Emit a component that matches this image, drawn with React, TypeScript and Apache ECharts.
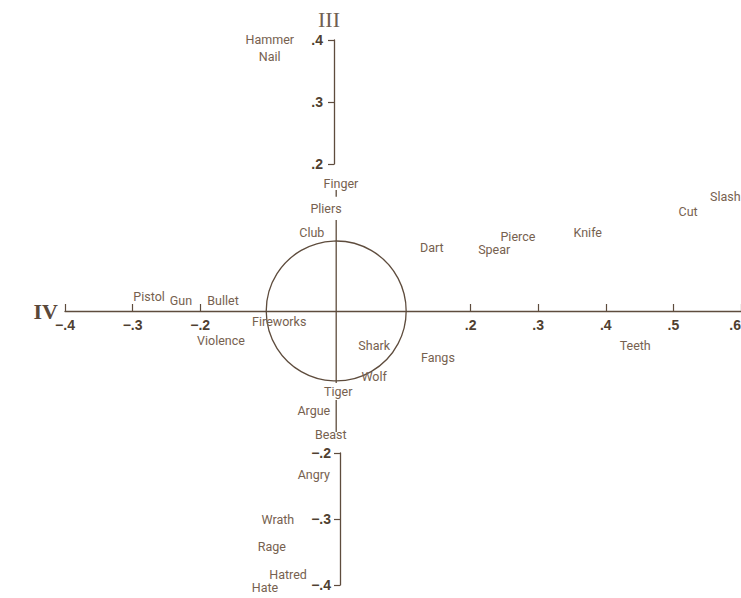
import React, { useEffect, useRef } from "react";
import * as echarts from "echarts";

// Factor IV (horizontal) and Factor III (vertical) loadings of each word
const words = [
  "Hammer", "Nail", "Finger", "Pliers", "Club", "Dart", "Spear", "Pierce", "Knife", "Cut", "Slash",
  "Teeth", "Fangs", "Shark", "Wolf", "Tiger", "Argue", "Beast", "Angry", "Wrath", "Rage", "Hatred",
  "Hate", "Pistol", "Gun", "Bullet", "Fireworks", "Violence",
];
const factorIV = [
  -0.098, -0.098, 0.007, -0.015, -0.036, 0.141, 0.233, 0.268, 0.371, 0.519, 0.574,
  0.441, 0.15, 0.056, 0.056, 0.003, -0.033, -0.008, -0.033, -0.086, -0.095, -0.071,
  -0.105, -0.276, -0.229, -0.167, -0.084, -0.17,
];
const factorIII = [
  0.399, 0.374, 0.188, 0.151, 0.116, 0.093, 0.091, 0.11, 0.115, 0.146, 0.168,
  -0.05, -0.068, -0.051, -0.096, -0.119, -0.146, -0.181, -0.24, -0.307, -0.347, -0.387,
  -0.407, 0.022, 0.016, 0.016, -0.016, -0.044,
];

// Tick values
const xTicks = [-0.4, -0.3, -0.2, 0.2, 0.3, 0.4, 0.5, 0.6];
const upperTicks = [0.2, 0.3, 0.4];
const lowerTicks = [-0.4, -0.3, -0.2];

// Pieces of the vertical (Factor III) line drawn through the middle
const verticalPieces = [
  [0.178, 0.168],
  [0.134, -0.106],
  [-0.131, -0.178],
];
// Circle around the origin
const circleCenter = [0, 0];
const circleRadius = 0.1032;

const AXIS_COLOR = "#5e4c3d";
const TICK_TEXT = "#4f3f31";
const WORD_COLOR = "#76614f";
const WORD_FONT = "Roboto, 'Liberation Sans', sans-serif";
const TICK_FONT = "'Liberation Sans', Arial, sans-serif";
const SERIF = "'Liberation Serif', 'DejaVu Serif', serif";

const fmt = (v: number) => {
  const r = Math.round(v * 10) / 10;
  const s = Math.abs(r).toFixed(1).replace(/^0/, "");
  return r < 0 ? "\u2212" + s : s;
};

export default function App() {
  const ref = useRef<HTMLDivElement>(null);
  useEffect(() => {
    if (!ref.current) return;
    const chart = echarts.init(ref.current, undefined, { renderer: "svg" });
    const tickLabelStyle = {
      color: TICK_TEXT,
      fontFamily: TICK_FONT,
      fontSize: 14,
      fontWeight: "bold" as const,
    };
    const option: any = {
      animation: false,
      backgroundColor: "#ffffff",
      grid: [
        // words, circle and middle line
        { left: 65, width: 678, top: 5, height: 612, outerBoundsMode: "none", containLabel: false },
        // upper bracket of Factor III
        { left: 334, width: 10, top: 40, height: 124, outerBoundsMode: "none", containLabel: false },
        // lower bracket of Factor III
        { left: 340, width: 10, top: 453, height: 132, outerBoundsMode: "none", containLabel: false },
        // Factor IV axis (its bottom edge is the zero line of Factor III)
        { left: 65, width: 676, top: 0, height: 311, outerBoundsMode: "none", containLabel: false },
      ],
      xAxis: [
        { type: "value", gridIndex: 0, min: -0.4, max: 0.6, show: false },
        { type: "value", gridIndex: 1, min: 0, max: 1, show: false },
        { type: "value", gridIndex: 2, min: 0, max: 1, show: false },
        {
          type: "value",
          gridIndex: 3,
          position: "bottom",
          min: -0.4,
          max: 0.6,
          splitLine: { show: false },
          axisLine: { show: true, onZero: false, lineStyle: { color: AXIS_COLOR, width: 1.3 } },
          axisTick: {
            show: true,
            inside: true,
            length: 7,
            customValues: xTicks,
            lineStyle: { color: AXIS_COLOR, width: 1.2 },
          },
          axisLabel: {
            show: true,
            customValues: xTicks,
            formatter: (v: number) => fmt(v),
            margin: 7,
            alignMaxLabel: "right",
            ...tickLabelStyle,
          },
          name: "IV",
          nameLocation: "start",
          nameGap: 7,
          nameMoveOverlap: false,
          nameTextStyle: {
            fontFamily: SERIF,
            fontSize: 22,
            fontWeight: "bold",
            color: "#5a4839",
            verticalAlign: "middle",
          },
        },
      ],
      yAxis: [
        { type: "value", gridIndex: 0, min: -0.45, max: 0.45, show: false },
        {
          type: "value",
          gridIndex: 1,
          min: 0.2,
          max: 0.4,
          position: "left",
          splitLine: { show: false },
          axisLine: { show: true, onZero: false, lineStyle: { color: AXIS_COLOR, width: 1.3 } },
          axisTick: {
            show: true,
            length: 6,
            customValues: upperTicks,
            lineStyle: { color: AXIS_COLOR, width: 1.2 },
          },
          axisLabel: {
            show: true,
            customValues: upperTicks,
            formatter: (v: number) => fmt(v),
            margin: 11,
            ...tickLabelStyle,
          },
          name: "III",
          nameLocation: "end",
          nameGap: 10,
          nameMoveOverlap: false,
          nameTextStyle: {
            fontFamily: SERIF,
            fontSize: 22,
            color: "#6f6052",
            padding: [0, 10, 0, 0],
          },
        },
        {
          type: "value",
          gridIndex: 2,
          min: -0.4,
          max: -0.2,
          position: "left",
          splitLine: { show: false },
          axisLine: { show: true, onZero: false, lineStyle: { color: AXIS_COLOR, width: 1.3 } },
          axisTick: {
            show: true,
            length: 6,
            customValues: lowerTicks,
            lineStyle: { color: AXIS_COLOR, width: 1.2 },
          },
          axisLabel: {
            show: true,
            customValues: lowerTicks,
            formatter: (v: number) => fmt(v),
            margin: 9,
            ...tickLabelStyle,
          },
        },
        { type: "value", gridIndex: 3, min: 0, max: 1, show: false },
      ],
      series: [
        ...verticalPieces.map((p) => ({
          type: "line",
          xAxisIndex: 0,
          yAxisIndex: 0,
          data: [
            [0, p[0]],
            [0, p[1]],
          ],
          symbol: "none",
          silent: true,
          lineStyle: { color: AXIS_COLOR, width: 1.3 },
        })),
        {
          type: "custom",
          xAxisIndex: 0,
          yAxisIndex: 0,
          silent: true,
          data: [[circleCenter[0], circleCenter[1], circleRadius]],
          renderItem: (_params: any, api: any) => {
            const c = api.coord([api.value(0), api.value(1)]);
            const r = api.size([api.value(2), 0])[0];
            return {
              type: "circle",
              shape: { cx: c[0], cy: c[1], r },
              style: { fill: "none", stroke: AXIS_COLOR, lineWidth: 1.3 },
            };
          },
        },
        {
          type: "custom",
          xAxisIndex: 0,
          yAxisIndex: 0,
          silent: true,
          clip: false,
          data: factorIV.map((x, i) => [x, factorIII[i]]),
          renderItem: (params: any, api: any) => {
            const p = api.coord([api.value(0), api.value(1)]);
            return {
              type: "text",
              x: p[0],
              y: p[1],
              style: {
                text: words[params.dataIndex],
                fill: WORD_COLOR,
                fontFamily: WORD_FONT,
                fontSize: 12.5,
                align: "center",
                verticalAlign: "middle",
              },
            };
          },
        },
      ],
    };
    chart.setOption(option);
    return () => chart.dispose();
  }, []);
  return (
    <div
      ref={ref}
      style={{ position: "fixed", left: 0, top: 0, width: 741, height: 598, background: "#fff" }}
    />
  );
}
